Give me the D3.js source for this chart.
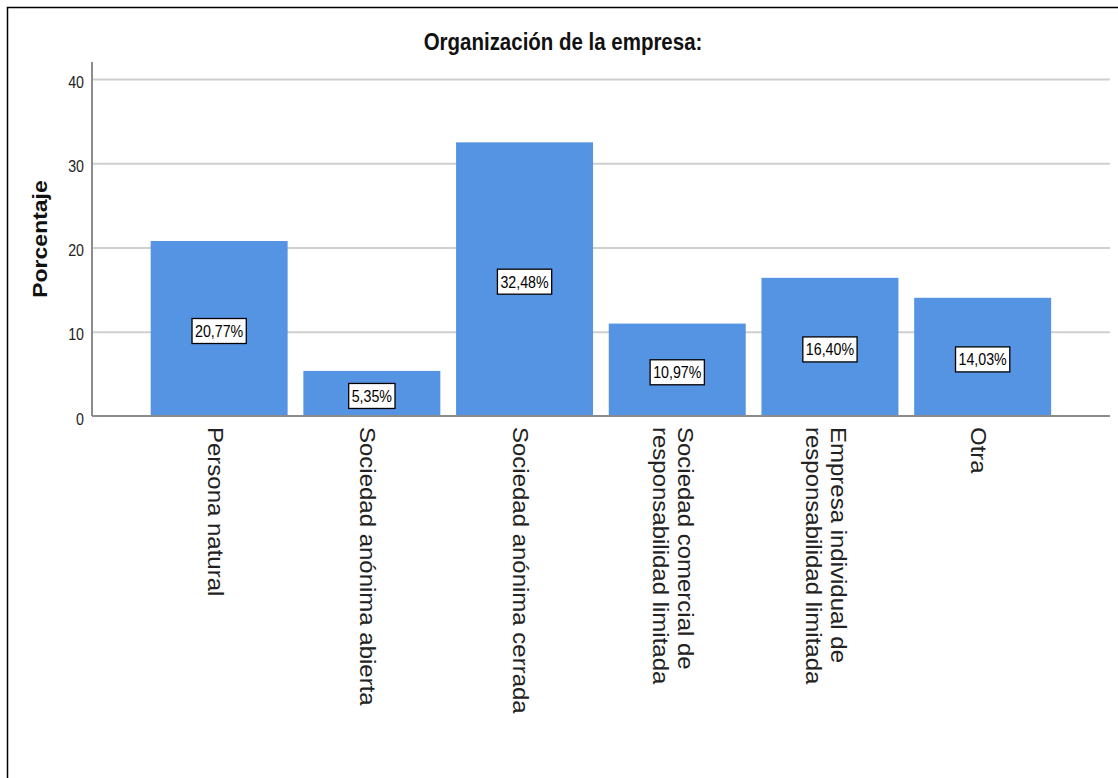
<!DOCTYPE html>
<html lang="es">
<head>
  <meta charset="UTF-8">
  <title>Organización de la empresa</title>
  <style>
    body { margin: 0; background: #fff; }
    svg { display: block; font-family: "Liberation Sans", Arial, sans-serif; }
    .grid line { stroke: #cfcfcf; stroke-width: 2; }
    .grid .domain { display: none; }
    .grid text { font-size: 16px; fill: #222; }
    .MyRect { fill: #5594e3; }
    .MyLabel { font-size: 16px; fill: #000; text-anchor: middle; }
    .cat { font-size: 24px; fill: #222; }
  </style>
</head>
<body>
  <div id="chart"></div>
  <script src="https://d3js.org/d3.v7.min.js"></script>
  <script>
    // datos del gráfico
    var categories = [
      ['Persona natural'],
      ['Sociedad anónima abierta'],
      ['Sociedad anónima cerrada'],
      ['Sociedad comercial de', 'responsabilidad limitada'],
      ['Empresa individual de', 'responsabilidad limitada'],
      ['Otra']
    ]
    var percents = [20.77, 5.35, 32.48, 10.97, 16.40, 14.03]
    var yTicks = [0, 10, 20, 30, 40]

    var width = 1118
    var height = 778
    var SX = 0.89   // el texto del original es algo estrecho
    var plot = {left: 92, right: 1110, top: 79, bottom: 416}

    var svg = d3.select('#chart').append('svg')
      .attr('width', width)
      .attr('height', height)

    // marco
    svg.append('rect')
      .attr('x', 7.5).attr('y', 7.5)
      .attr('width', 1300).attr('height', 1000)
      .attr('fill', 'none')
      .attr('stroke', '#000')
      .attr('stroke-width', 1.5)

    var xScale = d3.scaleBand()
      .domain(d3.range(percents.length))
      .range([142.8, 1059])
      .paddingInner(0.103)
      .paddingOuter(0.0515)

    var yScale = d3.scaleLinear()
      .domain([0, 40])
      .range([plot.bottom, plot.top])

    // rejilla + etiquetas del eje y
    var yAxis = d3.axisLeft(yScale)
      .tickValues(yTicks)
      .tickFormat(d3.format('d'))
      .tickSize(-(plot.right - plot.left))
      .tickPadding(0)
    var gy = svg.append('g')
      .attr('class', 'grid')
      .attr('transform', 'translate(' + plot.left + ',0)')
      .call(yAxis)
    gy.selectAll('.tick line')
      .filter(function (d) { return d === 0 })
      .remove()
    gy.selectAll('.tick text')
      .attr('x', -8 / SX)
      .attr('dy', 8)
      .attr('transform', 'scale(' + SX + ',1)')

    // línea del eje y
    svg.append('line')
      .attr('x1', plot.left).attr('x2', plot.left)
      .attr('y1', 62).attr('y2', plot.bottom)
      .attr('stroke', '#8c8c8c').attr('stroke-width', 2)

    // barras
    svg.selectAll('.MyRect')
      .data(percents)
      .enter()
      .append('rect')
      .attr('class', 'MyRect')
      .attr('x', function (d, i) { return xScale(i) })
      .attr('width', xScale.bandwidth())
      .attr('y', function (d) { return yScale(d) })
      .attr('height', function (d) { return yScale(0) - yScale(d) })

    // línea base
    svg.append('line')
      .attr('x1', plot.left).attr('x2', plot.right)
      .attr('y1', plot.bottom).attr('y2', plot.bottom)
      .attr('stroke', '#8c8c8c').attr('stroke-width', 2)

    // etiquetas de porcentaje con recuadro
    var labels = svg.selectAll('.MyLabel')
      .data(percents)
      .enter()
      .append('g')
      .attr('transform', function (d, i) {
        return 'translate(' + (xScale(i) + xScale.bandwidth() / 2) + ',' + (yScale(d / 2) + 2.5) + ')'
      })
    labels.append('rect')
      .attr('fill', '#fff')
      .attr('stroke', '#000')
      .attr('stroke-width', 1.3)
    labels.append('text')
      .attr('class', 'MyLabel')
      .attr('dy', 6)
      .attr('transform', 'scale(' + SX + ',1)')
      .text(function (d) { return d.toFixed(2).replace('.', ',') + '%' })
    labels.each(function () {
      var g = d3.select(this)
      var w = g.select('text').node().getComputedTextLength() * SX + 6
      g.select('rect')
        .attr('x', -w / 2).attr('y', -12.5)
        .attr('width', w).attr('height', 25)
    })

    // etiquetas de categoría (giradas)
    var cats = svg.selectAll('.cat')
      .data(categories)
      .enter()
      .append('text')
      .attr('class', 'cat')
    cats.selectAll('tspan')
      .data(function (d) {
        return d.map(function (line, j) { return {line: line, j: j} })
      })
      .enter()
      .append('tspan')
      .attr('x', 0)
      .attr('dy', function (d) { return d.j === 0 ? 0 : 25 / SX })
      .text(function (d) { return d.line })
    cats.attr('transform', function (d, i) {
      var cx = xScale(i) + xScale.bandwidth() / 2
      var bx = cx - 11.5 + (d.length - 1) * 12.5
      return 'translate(' + bx + ',427) scale(' + SX + ',1) rotate(90)'
    })

    // título
    svg.append('text')
      .attr('transform', 'translate(563,50) scale(' + SX + ',1)')
      .attr('text-anchor', 'middle')
      .attr('font-size', 23)
      .attr('font-weight', 'bold')
      .attr('fill', '#111')
      .text('Organización de la empresa:')

    // título del eje y
    svg.append('text')
      .attr('transform', 'translate(47,239) scale(' + SX + ',1) rotate(-90)')
      .attr('text-anchor', 'middle')
      .attr('font-size', 23)
      .attr('font-weight', 'bold')
      .attr('fill', '#111')
      .text('Porcentaje')
  </script>
</body>
</html>
